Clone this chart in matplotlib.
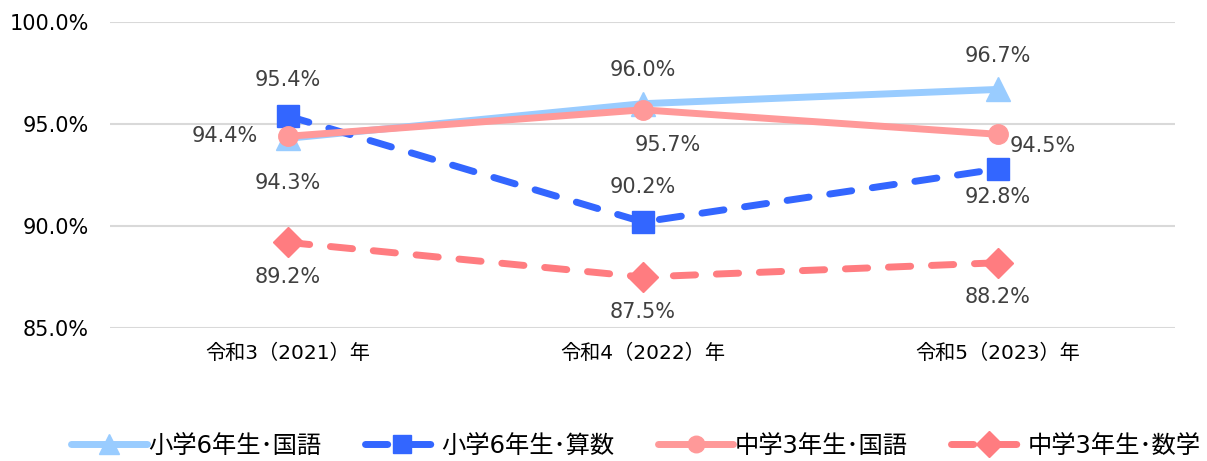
import matplotlib
matplotlib.use("Agg")
import matplotlib.pyplot as plt

plt.rcParams['font.family'] = ['DejaVu Sans', 'Noto Sans CJK JP']

# データ
years = ["令和3（2021）年", "令和4（2022）年", "令和5（2023）年"]
sho_kokugo = [94.3, 96.0, 96.7]
sho_sansu = [95.4, 90.2, 92.8]
chu_kokugo = [94.4, 95.7, 94.5]
chu_sugaku = [89.2, 87.5, 88.2]
names = ["小学6年生･国語", "小学6年生･算数", "中学3年生･国語", "中学3年生･数学"]

fig = plt.figure(figsize=(12.07, 4.61), dpi=100)
ax = fig.add_axes([0.0911, 0.2885, 0.8828, 0.6635])

x = list(range(len(years)))
lw = 5
ax.plot(x, sho_kokugo, color="#99CCFF", lw=lw, marker="^", ms=17,
        solid_capstyle="round", label=names[0], zorder=3)
ax.plot(x, sho_sansu, color="#3366FF", lw=lw, marker="s", ms=16,
        dashes=(3.2, 3.0), dash_capstyle="round", label=names[1], zorder=4)
ax.plot(x, chu_kokugo, color="#FF9999", lw=lw, marker="o", ms=14,
        solid_capstyle="round", label=names[2], zorder=5)
ax.plot(x, chu_sugaku, color="#FF7C80", lw=lw, marker="D", ms=15,
        dashes=(3.2, 3.0), dash_capstyle="round", label=names[3], zorder=3)

# ラベル
lab = dict(fontsize=15, color="#404040", ha="center", va="center")
def put(xi, v, dx, dy):
    ax.annotate(f"{v:.1f}%", (xi, v), xytext=(dx, dy), textcoords="offset points", **lab)

for i, v in enumerate(sho_kokugo):
    put(i, v, 0, [-32, 24, 24][i])
for i, v in enumerate(sho_sansu):
    put(i, v, 0, [26, 25, -20][i])
put(0, chu_kokugo[0], -45, 0)
put(1, chu_kokugo[1], 18, -25)
put(2, chu_kokugo[2], 32.5, -8.5)
for i, v in enumerate(chu_sugaku):
    put(i, v, 0, -25)

ax.set_xlim(-0.5, 2.5)
ax.set_ylim(85, 100)
ax.set_yticks([85, 90, 95, 100])
ax.set_yticklabels([f"{t:.1f}%" for t in [85, 90, 95, 100]])
ax.set_xticks(x)
ax.set_xticklabels(years)
ax.tick_params(axis="y", length=0, labelsize=15, labelcolor="#000000", pad=15)
ax.tick_params(axis="x", length=0, labelsize=14.5, labelcolor="#000000", pad=11)
ax.grid(axis="y", color="#D9D9D9", lw=1.5)
ax.set_axisbelow(True)
for s in ax.spines.values():
    s.set_visible(False)

fig.legend(loc="lower center", bbox_to_anchor=(0.527, -0.04), ncol=4, frameon=False,
           fontsize=17.5, handlelength=3.1, columnspacing=1.8, handletextpad=0.05,
           markerscale=0.85)

fig.savefig("out.png", dpi=100)
